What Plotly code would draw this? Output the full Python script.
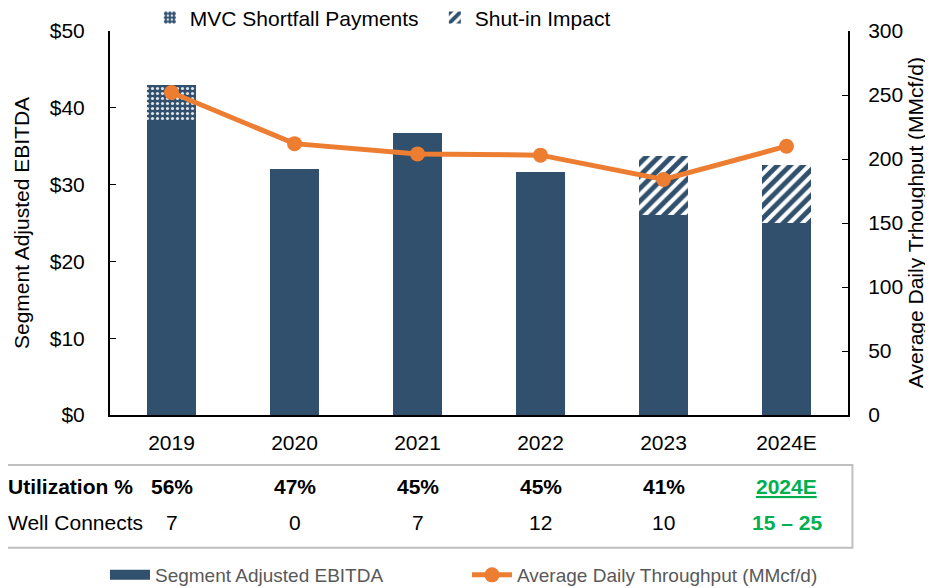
import plotly.graph_objects as go

years = ["2019", "2020", "2021", "2022", "2023", "2024E"]
ebitda_base = [38.2, 32.0, 36.7, 31.6, 26.0, 25.0]
mvc_shortfall = [4.8, 0, 0, 0, 0, 0]
shutin_impact = [0, 0, 0, 0, 7.7, 7.6]
throughput = [252, 212, 204, 203, 184, 210]
utilization = ["56%", "47%", "45%", "45%", "41%", "2024E"]
well_connects = ["7", "0", "7", "12", "10", "15 – 25"]

BLUE = "#31506D"
ORANGE = "#ED7D31"
GREEN = "#00B050"
FONT = "Liberation Sans, Arial, sans-serif"

fig = go.Figure()
fig.add_trace(go.Bar(
    x=years, y=ebitda_base, name="Segment Adjusted EBITDA",
    marker=dict(color=BLUE, line=dict(width=0)), width=0.4, showlegend=False,
))
fig.add_trace(go.Bar(
    x=years, y=mvc_shortfall, name="MVC Shortfall Payments",
    marker=dict(color=BLUE, line=dict(width=0),
                pattern=dict(shape=".", fgcolor="white", bgcolor=BLUE,
                             fillmode="overlay", fgopacity=0.85, size=5, solidity=0.3)),
    width=0.4, legend="legend",
))
fig.add_trace(go.Bar(
    x=years, y=shutin_impact, name="Shut-in Impact",
    marker=dict(color="white", line=dict(width=0),
                pattern=dict(shape="/", fgcolor=BLUE, bgcolor="white",
                             fillmode="overlay", fgopacity=1, size=9, solidity=0.55)),
    width=0.4, legend="legend",
))
# legend entry for the EBITDA bars, shown as a wide block like the original
fig.add_trace(go.Scatter(
    x=[None], y=[None], mode="lines", name="Segment Adjusted EBITDA",
    line=dict(color=BLUE, width=12), legend="legend2", hoverinfo="skip",
))
fig.add_trace(go.Scatter(
    x=years, y=throughput, name="Average Daily Throughput (MMcf/d)",
    mode="lines+markers", yaxis="y2",
    line=dict(color=ORANGE, width=5), marker=dict(color=ORANGE, size=15),
    legend="legend3",
))

TS = 21
annotations = []
for i, yr in enumerate(years):
    last = i == len(years) - 1
    u = utilization[i]
    annotations.append(dict(
        x=i, y=-0.185, xref="x", yref="paper", showarrow=False,
        xanchor="center", yanchor="middle",
        text=f"<b><u>{u}</u></b>" if last else f"<b>{u}</b>",
        font=dict(family=FONT, size=TS, color=GREEN if last else "black"),
    ))
    w = well_connects[i]
    annotations.append(dict(
        x=i, y=-0.279, xref="x", yref="paper", showarrow=False,
        xanchor="center", yanchor="middle",
        text=f"<b>{w}</b>" if last else w,
        font=dict(family=FONT, size=TS, color=GREEN if last else "black"),
    ))
annotations.append(dict(x=-0.141, y=-0.185, xref="paper", yref="paper", showarrow=False,
                        xanchor="left", yanchor="middle", text="<b>Utilization %</b>",
                        font=dict(family=FONT, size=TS, color="black")))
annotations.append(dict(x=-0.141, y=-0.279, xref="paper", yref="paper", showarrow=False,
                        xanchor="left", yanchor="middle", text="Well Connects",
                        font=dict(family=FONT, size=TS, color="black")))
# right axis title
annotations.append(dict(x=1.091, y=0.5, xref="paper", yref="paper", showarrow=False,
                        xanchor="center", yanchor="middle", textangle=-90,
                        text="Average Daily Trhoughput (MMcf/d)",
                        font=dict(family=FONT, size=21, color="black")))

fig.update_layout(
    width=925, height=580,
    margin=dict(l=102, r=85, t=23, b=173, autoexpand=False),
    paper_bgcolor="white", plot_bgcolor="white",
    barmode="stack",
    font=dict(family=FONT, size=21, color="black"),
    xaxis=dict(showline=True, linecolor="black", linewidth=2, ticks="",
               tickfont=dict(size=21), showgrid=False, range=[-0.5, 5.5],
               ticklabelstandoff=8),
    yaxis=dict(range=[0, 50], dtick=10, tickprefix="$", showline=True,
               linecolor="black", linewidth=2, ticks="inside", ticklen=6,
               tickcolor="black", showgrid=False, zeroline=False,
               tickfont=dict(size=21), ticklabelstandoff=19,
               title=dict(text="Segment Adjusted EBITDA", font=dict(size=21), standoff=14)),
    yaxis2=dict(range=[0, 300], dtick=50, overlaying="y", side="right",
                showline=True, linecolor="black", linewidth=2, ticks="inside",
                ticklen=6, tickcolor="black", showgrid=False, zeroline=False,
                tickfont=dict(size=21), ticklabelstandoff=14),
    legend=dict(orientation="h", x=0.054, y=1.034, xanchor="left", yanchor="middle",
                font=dict(size=21), itemwidth=30, bgcolor="rgba(0,0,0,0)",
                entrywidth=240, entrywidthmode="pixels", traceorder="normal"),
    legend2=dict(orientation="h", x=-0.0068, y=-0.4167, xanchor="left", yanchor="middle",
                 font=dict(size=19, color="#595959"), itemwidth=40,
                 bgcolor="rgba(0,0,0,0)"),
    legend3=dict(orientation="h", x=0.4837, y=-0.4167, xanchor="left", yanchor="middle",
                 font=dict(size=19, color="#595959"), itemwidth=40,
                 bgcolor="rgba(0,0,0,0)"),
    shapes=[dict(type="rect", xref="paper", yref="paper", x0=-0.16, x1=1.006,
                 y0=-0.346, y1=-0.130, line=dict(color="#BFBFBF", width=2),
                 fillcolor="rgba(0,0,0,0)")],
    annotations=annotations,
    showlegend=True,
)

fig.write_html("out.html")
